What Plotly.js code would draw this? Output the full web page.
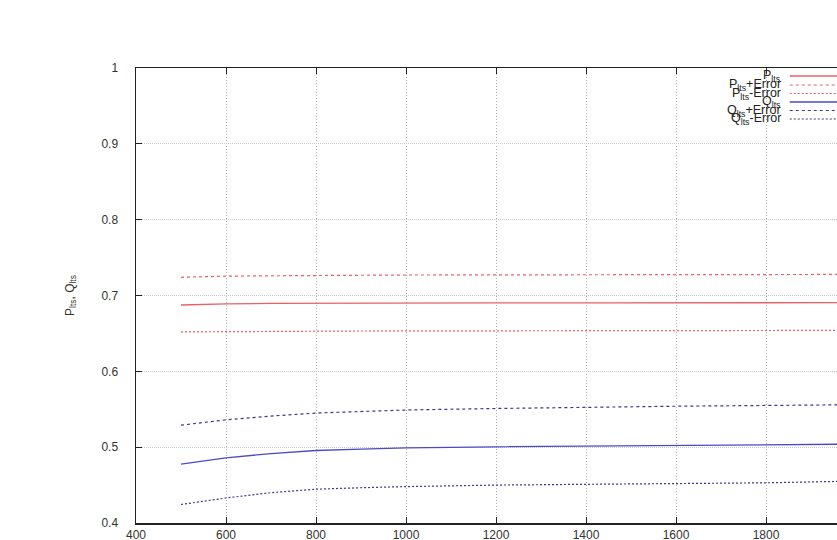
<!DOCTYPE html>
<html>
<head>
<meta charset="utf-8">
<script src="https://cdn.plot.ly/plotly-3.0.1.min.js"></script>
<style>html,body{margin:0;padding:0;overflow:hidden;background:#fff;}</style>
</head>
<body>
<div id="chart"></div>
<script>
const xVals = [500, 600, 700, 800, 900, 1000, 1200, 1400, 1600, 1800, 2000];
const pLts      = [0.6875, 0.689, 0.6895, 0.6898, 0.690, 0.690, 0.6902, 0.6903, 0.6904, 0.6904, 0.6905];
const pLtsPlus  = [0.724, 0.7255, 0.726, 0.7265, 0.727, 0.727, 0.7272, 0.7274, 0.7276, 0.7277, 0.7278];
const pLtsMinus = [0.652, 0.6525, 0.653, 0.653, 0.6532, 0.6533, 0.6535, 0.6537, 0.6538, 0.654, 0.654];
const qLts      = [0.4776, 0.486, 0.4915, 0.4956, 0.4975, 0.499, 0.5005, 0.5015, 0.5025, 0.5035, 0.504];
const qLtsPlus  = [0.529, 0.536, 0.541, 0.545, 0.547, 0.549, 0.551, 0.553, 0.554, 0.555, 0.556];
const qLtsMinus = [0.4244, 0.433, 0.440, 0.4446, 0.4465, 0.448, 0.450, 0.451, 0.452, 0.453, 0.4553];
const xTicks = [400, 600, 800, 1000, 1200, 1400, 1600, 1800, 2000];
const yTicks = [0.4, 0.5, 0.6, 0.7, 0.8, 0.9, 1];
const yTickText = ['0.4', '0.5', '0.6', '0.7', '0.8', '0.9', '1'];
const legendNames = ['P<sub>lts</sub>', 'P<sub>lts</sub>+Error', 'P<sub>lts</sub>-Error',
                     'Q<sub>lts</sub>', 'Q<sub>lts</sub>+Error', 'Q<sub>lts</sub>-Error'];

const red = '#e8606a';
const blue = '#4a4ac8';
const series = [pLts, pLtsPlus, pLtsMinus, qLts, qLtsPlus, qLtsMinus];
const styles = [
  {color: red, width: 1.3, dash: 'solid'},
  {color: red, width: 1.2, dash: '3px,3px'},
  {color: red, width: 1.2, dash: '2px,2px'},
  {color: blue, width: 1.3, dash: 'solid'},
  {color: '#3a3a90', width: 1.2, dash: '3px,3px'},
  {color: '#3a3a90', width: 1.2, dash: '2px,2px'}
];
const traces = series.map((s, i) => ({
  x: xVals, y: s, type: 'scatter', mode: 'lines',
  name: legendNames[i], line: {color: styles[i].color, width: styles[i].width, dash: styles[i].dash},
  showlegend: false, hoverinfo: 'skip'
}));

const plotTop = 68, plotBottom = 523, plotH = plotBottom - plotTop;
const legendRows = [76, 85, 93.5, 102, 110.5, 119];
const annotations = [];
const shapes = [];
legendRows.forEach((py, i) => {
  const yp = (plotBottom - py) / plotH;
  annotations.push({
    xref: 'paper', yref: 'paper', x: 0.898, y: yp, xanchor: 'right', yanchor: 'middle',
    text: legendNames[i], showarrow: false,
    font: {family: 'Liberation Sans, Arial, sans-serif', size: 12.5, color: '#222'}
  });
  shapes.push({
    type: 'line', xref: 'paper', yref: 'paper', x0: 0.908, x1: 0.995, y0: yp, y1: yp,
    line: {color: styles[i].color, width: styles[i].width, dash: styles[i].dash}
  });
});

const layout = {
  width: 876, height: 560,
  margin: {l: 136, r: 20, t: 68, b: 37},
  paper_bgcolor: '#fff', plot_bgcolor: '#fff',
  font: {family: 'Liberation Sans, Arial, sans-serif', size: 12, color: '#333'},
  xaxis: {
    range: [400, 2000], tickvals: xTicks, ticktext: xTicks.map(String),
    ticks: 'inside', ticklen: 6, tickcolor: '#222', showline: true, linecolor: '#222', linewidth: 1.5,
    mirror: 'ticks', showgrid: true, gridcolor: '#b0b0b0', griddash: '1px,2px', gridwidth: 1,
    zeroline: false, tickfont: {size: 12, color: '#333'}
  },
  yaxis: {
    range: [0.4, 1], tickvals: yTicks, ticktext: yTickText,
    ticks: 'inside', ticklen: 6, tickcolor: '#222', showline: true, linecolor: '#222', linewidth: 1.5,
    mirror: 'ticks', showgrid: true, gridcolor: '#c8ccd0', griddash: '1px,1px', gridwidth: 1,
    zeroline: false, tickfont: {size: 12, color: '#333'}, ticklabelstandoff: 14,
    title: {text: 'P<sub>lts</sub>, Q<sub>lts</sub>', standoff: 24, font: {size: 12, color: '#333'}}
  },
  annotations: annotations,
  shapes: shapes,
  showlegend: false
};

Plotly.newPlot('chart', traces, layout, {displayModeBar: false, staticPlot: true});
</script>
</body>
</html>
